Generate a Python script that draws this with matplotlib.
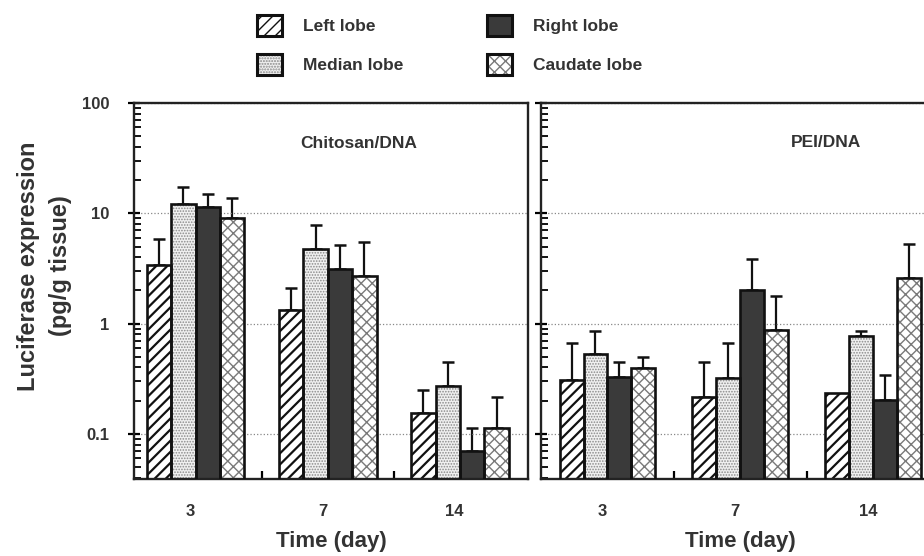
import matplotlib
matplotlib.use("Agg")
import matplotlib.pyplot as plt
from matplotlib.patches import Patch
from matplotlib.legend_handler import HandlerTuple
import numpy as np

plt.rcParams['font.family'] = ['Liberation Sans', 'DejaVu Sans']
plt.rcParams['font.weight'] = 'bold'

days = ["3", "7", "14"]
lobes = ["Left lobe", "Median lobe", "Right lobe", "Caudate lobe"]

# Chitosan/DNA: means and upper error (SD)
chitosan_left = [3.37, 1.33, 0.155]
chitosan_median = [12.2, 4.77, 0.273]
chitosan_right = [11.4, 3.10, 0.070]
chitosan_caudate = [9.16, 2.70, 0.114]
chitosan_left_sd = [2.51, 0.79, 0.094]
chitosan_median_sd = [5.1, 3.1, 0.171]
chitosan_right_sd = [3.5, 2.01, 0.042]
chitosan_caudate_sd = [4.74, 2.79, 0.104]

# PEI/DNA
pei_left = [0.311, 0.217, 0.233]
pei_median = [0.535, 0.322, 0.767]
pei_right = [0.329, 2.03, 0.202]
pei_caudate = [0.394, 0.870, 2.59]
pei_left_sd = [0.358, 0.229, 0.0]
pei_median_sd = [0.33, 0.347, 0.098]
pei_right_sd = [0.117, 1.85, 0.143]
pei_caudate_sd = [0.105, 0.90, 2.71]

txt = '#333333'
# (face, hatch, hatch colour, hatch width) per lobe
styles = [("white", "///", "#111111", 1.6),
          ("#f0f0f0", "......", "#8a8a8a", 0.8),
          ("#3a3a3a", "", "#3a3a3a", 1.0),
          ("white", "xxx", "#7a7a7a", 1.0)]

fig = plt.figure(figsize=(9.24, 5.56), dpi=100)
W, H = 924, 556
ax1 = fig.add_axes([134 / W, 1 - 479 / H, (528 - 134) / W, (479 - 103) / H])
ax2 = fig.add_axes([541 / W, 1 - 479 / H, (939.5 - 541) / W, (479 - 103) / H])


def panel(ax, means, sds, width, xlim, title, tpos, labels):
    ax.set_yscale('log')
    ax.set_ylim(0.039, 100)
    ax.set_xlim(*xlim)
    x = np.arange(len(days))
    for i, (m, s) in enumerate(zip(means, sds)):
        face, hatch, hc, hw = styles[i]
        xi = x + (i - 1.5) * width
        with plt.rc_context({'hatch.linewidth': hw}):
            ax.bar(xi, m, width, color=face, hatch=hatch, edgecolor=hc, linewidth=0, zorder=2)
        ax.bar(xi, m, width, color='none', edgecolor='#111111', linewidth=1.9, zorder=3)
        m = np.array(m)
        s = np.array(s)
        keep = s > 0
        ax.errorbar(xi[keep], m[keep], yerr=[np.zeros(keep.sum()), s[keep]], fmt='none',
                    ecolor='#111111', elinewidth=1.6, capsize=4.5, capthick=1.8, zorder=1)
    ax.grid(axis='y', which='major', linestyle=':', color='#888888', linewidth=0.9, zorder=0)
    for sp in ax.spines.values():
        sp.set_linewidth(1.7)
        sp.set_color('#222222')
    ax.set_xticks(x - 0.04, days)
    ax.set_xticks([0.5, 1.5], minor=True)
    ax.tick_params(axis='x', which='major', length=0, pad=18, labelsize=12, labelcolor=txt)
    ax.tick_params(axis='x', which='minor', direction='in', length=6, width=1.6)
    ax.tick_params(axis='y', which='major', direction='inout', length=9, width=1.6,
                   labelsize=12, labelcolor=txt, pad=13, labelleft=labels)
    ax.tick_params(axis='y', which='minor', direction='in', length=5, width=1.3)
    ax.set_yticks([0.1, 1, 10, 100], ["0.1", "1", "10", "100"])
    ax.set_xlabel("Time (day)", fontsize=16, fontweight='bold', color=txt, labelpad=9)
    ax.text(tpos[0], tpos[1], title, transform=ax.transAxes, ha='center', va='center',
            fontsize=12.5, fontweight='bold', color=txt)


panel(ax1, [chitosan_left, chitosan_median, chitosan_right, chitosan_caudate],
      [chitosan_left_sd, chitosan_median_sd, chitosan_right_sd, chitosan_caudate_sd],
      0.185, (-0.465, 2.514), "Chitosan/DNA", (0.571, 0.891), True)
panel(ax2, [pei_left, pei_median, pei_right, pei_caudate],
      [pei_left_sd, pei_median_sd, pei_right_sd, pei_caudate_sd],
      0.18, (-0.5, 2.5), "PEI/DNA", (0.715, 0.896), False)

fig.text(44.5 / W, 1 - 266 / H, "Luciferase expression\n(pg/g tissue)", rotation=90,
         ha='center', va='center', fontsize=17, fontweight='bold', color=txt, linespacing=1.45)

handles = []
for face, hatch, hc, hw in styles:
    with plt.rc_context({'hatch.linewidth': hw}):
        p1 = Patch(facecolor=face, hatch=hatch, edgecolor=hc, linewidth=0)
    p2 = Patch(facecolor='none', edgecolor='#111111', linewidth=2.2)
    handles.append((p1, p2))
fig.legend(handles, lobes, ncol=2, loc='center', bbox_to_anchor=(449.5 / W, 1 - 45 / H),
           frameon=False, fontsize=12.5, labelcolor=txt, handlelength=1.45, handleheight=1.45,
           handletextpad=1.2, columnspacing=4.8, labelspacing=1.05,
           handler_map={tuple: HandlerTuple(ndivide=1, pad=0)})

fig.savefig("out.png", dpi=100)
